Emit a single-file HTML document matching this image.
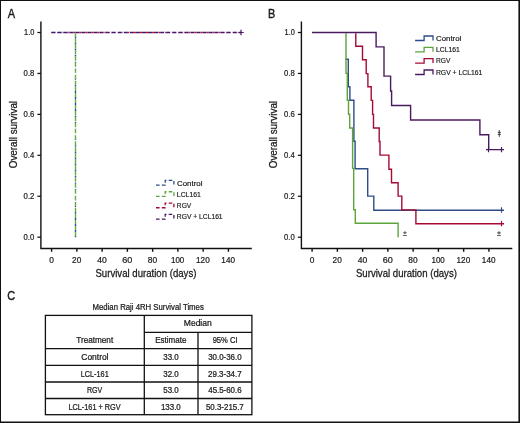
<!DOCTYPE html><html><head><meta charset="utf-8"><style>html,body{margin:0;padding:0;background:#fff;overflow:hidden}svg{display:block;will-change:transform}</style></head><body><svg width="520" height="423" viewBox="0 0 520 423">
<rect x="0" y="0" width="520" height="423" fill="#fff"/>
<g font-family='"Liberation Sans", sans-serif'>
<g stroke="#111" stroke-width="1.4" fill="none">
<path d="M40.9 21.4V248.5H251.8"/>
<path d="M37.4 32.50H40.9" stroke-width="1.25"/>
<path d="M37.4 73.44H40.9" stroke-width="1.25"/>
<path d="M37.4 114.38H40.9" stroke-width="1.25"/>
<path d="M37.4 155.32H40.9" stroke-width="1.25"/>
<path d="M37.4 196.26H40.9" stroke-width="1.25"/>
<path d="M37.4 237.20H40.9" stroke-width="1.25"/>
<path d="M51.60 248.5V251.8"/>
<path d="M76.86 248.5V251.8"/>
<path d="M102.12 248.5V251.8"/>
<path d="M127.38 248.5V251.8"/>
<path d="M152.64 248.5V251.8"/>
<path d="M177.90 248.5V251.8"/>
<path d="M203.16 248.5V251.8"/>
<path d="M228.42 248.5V251.8"/>
</g>
<text x="24.04" y="35.35" font-size="8.2" textLength="10.24" lengthAdjust="spacingAndGlyphs" fill="#1a1a1a" stroke="#1a1a1a" stroke-width="0.20">1.0</text>
<text x="23.59" y="76.29" font-size="8.2" textLength="10.75" lengthAdjust="spacingAndGlyphs" fill="#1a1a1a" stroke="#1a1a1a" stroke-width="0.20">0.8</text>
<text x="23.59" y="117.23" font-size="8.2" textLength="10.75" lengthAdjust="spacingAndGlyphs" fill="#1a1a1a" stroke="#1a1a1a" stroke-width="0.20">0.6</text>
<text x="23.59" y="158.17" font-size="8.2" textLength="10.64" lengthAdjust="spacingAndGlyphs" fill="#1a1a1a" stroke="#1a1a1a" stroke-width="0.20">0.4</text>
<text x="23.59" y="199.11" font-size="8.2" textLength="10.80" lengthAdjust="spacingAndGlyphs" fill="#1a1a1a" stroke="#1a1a1a" stroke-width="0.20">0.2</text>
<text x="23.59" y="240.05" font-size="8.2" textLength="10.70" lengthAdjust="spacingAndGlyphs" fill="#1a1a1a" stroke="#1a1a1a" stroke-width="0.20">0.0</text>
<text x="49.17" y="262.6" font-size="8.5" textLength="4.65" lengthAdjust="spacingAndGlyphs" fill="#1a1a1a" stroke="#1a1a1a" stroke-width="0.21">0</text>
<text x="72.09" y="262.6" font-size="8.5" textLength="9.23" lengthAdjust="spacingAndGlyphs" fill="#1a1a1a" stroke="#1a1a1a" stroke-width="0.21">20</text>
<text x="97.33" y="262.6" font-size="8.5" textLength="9.52" lengthAdjust="spacingAndGlyphs" fill="#1a1a1a" stroke="#1a1a1a" stroke-width="0.21">40</text>
<text x="122.18" y="262.6" font-size="8.5" textLength="10.10" lengthAdjust="spacingAndGlyphs" fill="#1a1a1a" stroke="#1a1a1a" stroke-width="0.21">60</text>
<text x="147.87" y="262.6" font-size="8.5" textLength="9.29" lengthAdjust="spacingAndGlyphs" fill="#1a1a1a" stroke="#1a1a1a" stroke-width="0.21">80</text>
<text x="170.99" y="262.6" font-size="8.5" textLength="13.31" lengthAdjust="spacingAndGlyphs" fill="#1a1a1a" stroke="#1a1a1a" stroke-width="0.21">100</text>
<text x="196.09" y="262.6" font-size="8.5" textLength="13.64" lengthAdjust="spacingAndGlyphs" fill="#1a1a1a" stroke="#1a1a1a" stroke-width="0.21">120</text>
<text x="221.35" y="262.6" font-size="8.5" textLength="13.64" lengthAdjust="spacingAndGlyphs" fill="#1a1a1a" stroke="#1a1a1a" stroke-width="0.21">140</text>
<text x="95.46" y="277.2" font-size="10.5" textLength="100.94" lengthAdjust="spacingAndGlyphs" fill="#1a1a1a" stroke="#1a1a1a" stroke-width="0.26">Survival duration (days)</text>
<text transform="translate(16.9 168.27) rotate(-90)" x="0" y="0" font-size="10.4" textLength="67.33" lengthAdjust="spacingAndGlyphs" fill="#1a1a1a" stroke="#1a1a1a" stroke-width="0.26">Overall survival</text>
<g stroke="#111" stroke-width="1.4" fill="none">
<path d="M301.4 21.4V248.5H512.3"/>
<path d="M297.9 32.50H301.4" stroke-width="1.25"/>
<path d="M297.9 73.44H301.4" stroke-width="1.25"/>
<path d="M297.9 114.38H301.4" stroke-width="1.25"/>
<path d="M297.9 155.32H301.4" stroke-width="1.25"/>
<path d="M297.9 196.26H301.4" stroke-width="1.25"/>
<path d="M297.9 237.20H301.4" stroke-width="1.25"/>
<path d="M312.10 248.5V251.8"/>
<path d="M337.36 248.5V251.8"/>
<path d="M362.62 248.5V251.8"/>
<path d="M387.88 248.5V251.8"/>
<path d="M413.14 248.5V251.8"/>
<path d="M438.40 248.5V251.8"/>
<path d="M463.66 248.5V251.8"/>
<path d="M488.92 248.5V251.8"/>
</g>
<text x="284.54" y="35.35" font-size="8.2" textLength="10.24" lengthAdjust="spacingAndGlyphs" fill="#1a1a1a" stroke="#1a1a1a" stroke-width="0.20">1.0</text>
<text x="284.09" y="76.29" font-size="8.2" textLength="10.75" lengthAdjust="spacingAndGlyphs" fill="#1a1a1a" stroke="#1a1a1a" stroke-width="0.20">0.8</text>
<text x="284.09" y="117.23" font-size="8.2" textLength="10.75" lengthAdjust="spacingAndGlyphs" fill="#1a1a1a" stroke="#1a1a1a" stroke-width="0.20">0.6</text>
<text x="284.09" y="158.17" font-size="8.2" textLength="10.64" lengthAdjust="spacingAndGlyphs" fill="#1a1a1a" stroke="#1a1a1a" stroke-width="0.20">0.4</text>
<text x="284.09" y="199.11" font-size="8.2" textLength="10.80" lengthAdjust="spacingAndGlyphs" fill="#1a1a1a" stroke="#1a1a1a" stroke-width="0.20">0.2</text>
<text x="284.09" y="240.05" font-size="8.2" textLength="10.70" lengthAdjust="spacingAndGlyphs" fill="#1a1a1a" stroke="#1a1a1a" stroke-width="0.20">0.0</text>
<text x="309.67" y="262.6" font-size="8.5" textLength="4.65" lengthAdjust="spacingAndGlyphs" fill="#1a1a1a" stroke="#1a1a1a" stroke-width="0.21">0</text>
<text x="332.59" y="262.6" font-size="8.5" textLength="9.23" lengthAdjust="spacingAndGlyphs" fill="#1a1a1a" stroke="#1a1a1a" stroke-width="0.21">20</text>
<text x="357.83" y="262.6" font-size="8.5" textLength="9.52" lengthAdjust="spacingAndGlyphs" fill="#1a1a1a" stroke="#1a1a1a" stroke-width="0.21">40</text>
<text x="382.68" y="262.6" font-size="8.5" textLength="10.10" lengthAdjust="spacingAndGlyphs" fill="#1a1a1a" stroke="#1a1a1a" stroke-width="0.21">60</text>
<text x="408.37" y="262.6" font-size="8.5" textLength="9.29" lengthAdjust="spacingAndGlyphs" fill="#1a1a1a" stroke="#1a1a1a" stroke-width="0.21">80</text>
<text x="431.49" y="262.6" font-size="8.5" textLength="13.31" lengthAdjust="spacingAndGlyphs" fill="#1a1a1a" stroke="#1a1a1a" stroke-width="0.21">100</text>
<text x="456.59" y="262.6" font-size="8.5" textLength="13.64" lengthAdjust="spacingAndGlyphs" fill="#1a1a1a" stroke="#1a1a1a" stroke-width="0.21">120</text>
<text x="481.85" y="262.6" font-size="8.5" textLength="13.64" lengthAdjust="spacingAndGlyphs" fill="#1a1a1a" stroke="#1a1a1a" stroke-width="0.21">140</text>
<text x="355.96" y="277.2" font-size="10.5" textLength="100.94" lengthAdjust="spacingAndGlyphs" fill="#1a1a1a" stroke="#1a1a1a" stroke-width="0.26">Survival duration (days)</text>
<text transform="translate(277.4 168.27) rotate(-90)" x="0" y="0" font-size="10.4" textLength="67.33" lengthAdjust="spacingAndGlyphs" fill="#1a1a1a" stroke="#1a1a1a" stroke-width="0.26">Overall survival</text>
<text x="7.78" y="18.0" font-size="11.9" textLength="7.36" lengthAdjust="spacingAndGlyphs" fill="#1a1a1a" stroke="#1a1a1a" stroke-width="0.36">A</text>
<text x="268.01" y="18.1" font-size="11.9" textLength="7.27" lengthAdjust="spacingAndGlyphs" fill="#1a1a1a" stroke="#1a1a1a" stroke-width="0.36">B</text>
<text x="7.25" y="299.6" font-size="11.9" textLength="7.97" lengthAdjust="spacingAndGlyphs" fill="#1a1a1a" stroke="#1a1a1a" stroke-width="0.36">C</text>
<g fill="none" stroke-width="1.4">
<path d="M55.26 32.5H55.70M61.70 32.5H62.40M68.46 32.5H69.10M75.20 32.5H75.40" stroke="#2c4a96"/>
<path d="M57.16 32.5H57.26M61.30 32.5H61.70M67.36 32.5H68.46M73.40 32.5H75.20M79.46 32.5H81.46M85.50 32.5H87.50M91.56 32.5H93.56M97.66 32.5H99.60M104.40 32.5H105.66M111.16 32.5H111.70M121.80 32.5H122.46M127.86 32.5H129.22M133.90 32.5H135.90M139.96 32.5H141.96M146.00 32.5H148.00M152.06 32.5H154.06M158.40 32.5H160.10M165.16 32.5H166.16M171.90 32.5H172.20M176.26 32.5H176.46M182.32 32.5H183.20M188.36 32.5H189.96M194.40 32.5H196.40M200.46 32.5H202.46M206.50 32.5H208.50M212.56 32.5H214.56M219.16 32.5H220.60M225.90 32.5H226.66M232.66 32.5H232.70M236.76 32.5H237.20" stroke="#bf1030"/>
<path d="M51.20 32.5H55.26M57.26 32.5H61.30M63.30 32.5H67.36M69.36 32.5H73.40M75.40 32.5H79.46M81.46 32.5H85.50M87.50 32.5H91.56M93.56 32.5H97.60M99.60 32.5H103.66M105.66 32.5H109.70M111.70 32.5H115.76M117.76 32.5H121.80M123.80 32.5H127.86M129.86 32.5H133.90M135.90 32.5H139.96M141.96 32.5H146.00M148.00 32.5H152.06M154.06 32.5H158.10M160.10 32.5H164.16M166.16 32.5H170.20M172.20 32.5H176.26M178.26 32.5H182.32M184.32 32.5H188.36M190.36 32.5H194.40M196.40 32.5H200.46M202.46 32.5H206.50M208.50 32.5H212.56M214.56 32.5H218.60M220.60 32.5H224.66M226.66 32.5H230.70M232.70 32.5H236.76M238.76 32.5H241.00" stroke="#42196a"/>
<path d="M75.5 36.46V38.46M75.5 42.52V44.52M75.5 48.56V50.56M75.5 55.12V56.60M75.5 61.82V62.66M75.5 68.52V68.70M75.5 72.76V73.02M75.5 78.82V79.72M75.5 84.86V86.42M75.5 90.92V92.92M75.5 96.96V98.96M75.5 103.00V105.00M75.5 109.06V111.06M75.5 115.40V117.10M75.5 122.10V123.16M75.5 128.82V129.20M75.5 133.26V133.32M75.5 139.32V140.00M75.5 145.36V146.72M75.5 151.42V153.42M75.5 157.46V159.46M75.5 163.50V165.50M75.5 169.56V171.56M75.5 175.72V177.62M75.5 182.42V183.66M75.5 189.12V189.70M75.5 199.80V200.30M75.5 205.86V207.00M75.5 211.92V213.72M75.5 217.96V219.96M75.5 224.00V226.00M75.5 230.06V232.06M75.5 236.12V237.20" stroke="#2c4a96"/>
<path d="M75.5 33.20V36.46M75.5 38.46V42.52M75.5 44.52V48.56M75.5 50.56V54.60M75.5 56.60V60.66M75.5 62.66V66.70M75.5 68.70V72.76M75.5 74.76V78.82M75.5 80.82V84.86M75.5 86.86V90.92M75.5 92.92V96.96M75.5 98.96V103.00M75.5 105.00V109.06M75.5 111.06V115.10M75.5 117.10V121.16M75.5 123.16V127.20M75.5 129.20V133.26M75.5 135.26V139.32M75.5 141.32V145.36M75.5 147.36V151.42M75.5 153.42V157.46M75.5 159.46V163.50M75.5 165.50V169.56M75.5 171.56V175.62M75.5 177.62V181.66M75.5 183.66V187.70M75.5 189.70V193.76M75.5 195.76V199.80M75.5 201.80V205.86M75.5 207.86V211.92M75.5 213.92V217.96M75.5 219.96V224.00M75.5 226.00V230.06M75.5 232.06V236.12" stroke="#62ad3e"/>
<path d="M241 29.8V35.2M238.3 32.5H243.7" stroke="#4a1a5e" stroke-width="1.2"/>
</g>
<path d="M156 185.1H165.2V180.4H173.9V185.1" fill="none" stroke="#2e4c86" stroke-width="1.3" stroke-dasharray="3.6 2.2"/>
<text x="177.00" y="185.5" font-size="7.3" textLength="25.52" lengthAdjust="spacingAndGlyphs" fill="#1a1a1a" stroke="#1a1a1a" stroke-width="0.18">Control</text>
<path d="M156 196.43H165.2V191.73000000000002H173.9V196.43" fill="none" stroke="#5ca53c" stroke-width="1.3" stroke-dasharray="3.6 2.2"/>
<text x="176.84" y="196.6" font-size="7.3" textLength="24.00" lengthAdjust="spacingAndGlyphs" fill="#1a1a1a" stroke="#1a1a1a" stroke-width="0.18">LCL161</text>
<path d="M156 207.77H165.2V203.07000000000002H173.9V207.77" fill="none" stroke="#a60a34" stroke-width="1.3" stroke-dasharray="3.6 2.2"/>
<text x="176.86" y="207.8" font-size="7.3" textLength="14.38" lengthAdjust="spacingAndGlyphs" fill="#1a1a1a" stroke="#1a1a1a" stroke-width="0.18">RGV</text>
<path d="M156 219.1H165.2V214.4H173.9V219.1" fill="none" stroke="#4a1a5e" stroke-width="1.3" stroke-dasharray="3.6 2.2"/>
<text x="176.85" y="219.3" font-size="7.3" textLength="45.77" lengthAdjust="spacingAndGlyphs" fill="#1a1a1a" stroke="#1a1a1a" stroke-width="0.18">RGV + LCL161</text>
<g fill="none" stroke-width="1.4" stroke-linejoin="miter">
<path d="M345.3 59.3L348.3 59.3L348.3 86.8L349.9 86.8L349.9 100.3L353.9 100.3L353.9 141.2L355.1 141.2L355.1 168.7L367.7 168.7L367.7 196.1L373.8 196.1L373.8 210.2L504 210.2" stroke="#2e4c86"/>
<path d="M346.0 33.2L346.0 73.4L347.3 73.4L347.3 100.3L348.5 100.3L348.5 114.3L349.7 114.3L349.7 128.0L352.6 128.0L352.6 168.4L353.7 168.4L353.7 209.7L355.3 209.7L355.3 223.2L398.1 223.2L398.1 237.2" stroke="#5ca53c"/>
<path d="M355.8 33.2L355.8 46.2L362.5 46.2L362.5 59.7L366.2 59.7L366.2 73.6L367.9 73.6L367.9 86.8L371.2 86.8L371.2 100.4L372.6 100.4L372.6 114.4L373.5 114.4L373.5 128.0L379.2 128.0L379.2 141.5L380.0 141.5L380.0 155.1L388.9 155.1L388.9 169.2L391.5 169.2L391.5 182.8L398.1 182.8L398.1 196.1L401.8 196.1L401.8 209.9L415.9 209.9L415.9 223.7L504 223.7" stroke="#a60a34"/>
<path d="M312.0 32.5L376.1 32.5L376.1 46.9L384.0 46.9L384.0 76.1L390.6 76.1L390.6 91.0L391.6 91.0L391.6 105.5L410.6 105.5L410.6 120.0L479.9 120.0L479.9 134.8L488.7 134.8L488.7 149.6L504 149.6" stroke="#4a1a5e"/>
<path d="M501.5 207.3V212.7" stroke="#2e4c86" stroke-width="1.2"/>
<path d="M501.5 220.9V226.3" stroke="#a60a34" stroke-width="1.2"/>
<path d="M501.5 146.9V152.3M488.5 146.9V152.3M486 149.6H489" stroke="#4a1a5e" stroke-width="1.2"/>
</g>
<path d="M403.2 232.8H406.59999999999997M404.9 231.20000000000002V234.3" stroke="#555" stroke-width="1.1" fill="none"/>
<path d="M402.9 235.5H406.9" stroke="#555" stroke-width="0.9" fill="none"/>
<path d="M497.3 232.9H500.7M499.0 231.3V234.4" stroke="#555" stroke-width="1.1" fill="none"/>
<path d="M497.0 235.6H501.0" stroke="#555" stroke-width="0.9" fill="none"/>
<path d="M499.3 130.2V136.8M497.8 132.4H500.8M497.8 134.4H500.8" stroke="#3a3a3a" stroke-width="1.0" fill="none"/>
<path d="M415.1 40.5H424.1V36.0H433.0V40.5" fill="none" stroke="#2e4c86" stroke-width="1.3"/>
<text x="436.11" y="40.5" font-size="7.3" textLength="25.20" lengthAdjust="spacingAndGlyphs" fill="#1a1a1a" stroke="#1a1a1a" stroke-width="0.18">Control</text>
<path d="M415.1 51.8H424.1V47.3H433.0V51.8" fill="none" stroke="#5ca53c" stroke-width="1.3"/>
<text x="435.94" y="51.6" font-size="7.3" textLength="23.89" lengthAdjust="spacingAndGlyphs" fill="#1a1a1a" stroke="#1a1a1a" stroke-width="0.18">LCL161</text>
<path d="M415.1 63.1H424.1V58.6H433.0V63.1" fill="none" stroke="#a60a34" stroke-width="1.3"/>
<text x="435.96" y="63.1" font-size="7.3" textLength="14.38" lengthAdjust="spacingAndGlyphs" fill="#1a1a1a" stroke="#1a1a1a" stroke-width="0.18">RGV</text>
<path d="M415.1 74.5H424.1V70.0H433.0V74.5" fill="none" stroke="#4a1a5e" stroke-width="1.3"/>
<text x="435.94" y="74.6" font-size="7.3" textLength="46.38" lengthAdjust="spacingAndGlyphs" fill="#1a1a1a" stroke="#1a1a1a" stroke-width="0.18">RGV + LCL161</text>
<text x="92.56" y="310.4" font-size="8.5" textLength="111.21" lengthAdjust="spacingAndGlyphs" fill="#1a1a1a" stroke="#1a1a1a" stroke-width="0.24">Median Raji 4RH Survival Times</text>
<g stroke="#111" stroke-width="1.3" fill="none">
<rect x="45.4" y="315.4" width="206.5" height="99.30000000000001"/>
<path d="M144.3 315.4V414.7M198.0 332.4V414.7M144.3 332.4H251.9"/>
<path d="M45.4 348.7H251.9"/>
<path d="M45.4 365.4H251.9"/>
<path d="M45.4 382.0H251.9"/>
<path d="M45.4 398.5H251.9"/>
</g>
<text x="183.80" y="326.2" font-size="8.5" textLength="27.94" lengthAdjust="spacingAndGlyphs" fill="#1a1a1a" stroke="#1a1a1a" stroke-width="0.24">Median</text>
<text x="76.22" y="343.0" font-size="8.5" textLength="36.95" lengthAdjust="spacingAndGlyphs" fill="#1a1a1a" stroke="#1a1a1a" stroke-width="0.24">Treatment</text>
<text x="155.24" y="343.0" font-size="8.5" textLength="31.21" lengthAdjust="spacingAndGlyphs" fill="#1a1a1a" stroke="#1a1a1a" stroke-width="0.24">Estimate</text>
<text x="212.65" y="343.0" font-size="8.5" textLength="24.94" lengthAdjust="spacingAndGlyphs" fill="#1a1a1a" stroke="#1a1a1a" stroke-width="0.24">95% CI</text>
<text x="81.33" y="359.9" font-size="8.5" textLength="27.17" lengthAdjust="spacingAndGlyphs" fill="#1a1a1a" stroke="#1a1a1a" stroke-width="0.24">Control</text>
<text x="163.30" y="359.9" font-size="8.5" textLength="15.40" lengthAdjust="spacingAndGlyphs" fill="#1a1a1a" stroke="#1a1a1a" stroke-width="0.24">33.0</text>
<text x="208.15" y="359.9" font-size="8.5" textLength="33.40" lengthAdjust="spacingAndGlyphs" fill="#1a1a1a" stroke="#1a1a1a" stroke-width="0.24">30.0-36.0</text>
<text x="80.70" y="376.8" font-size="8.5" textLength="28.05" lengthAdjust="spacingAndGlyphs" fill="#1a1a1a" stroke="#1a1a1a" stroke-width="0.24">LCL-161</text>
<text x="163.30" y="376.8" font-size="8.5" textLength="15.40" lengthAdjust="spacingAndGlyphs" fill="#1a1a1a" stroke="#1a1a1a" stroke-width="0.24">32.0</text>
<text x="208.05" y="376.8" font-size="8.5" textLength="33.59" lengthAdjust="spacingAndGlyphs" fill="#1a1a1a" stroke="#1a1a1a" stroke-width="0.24">29.3-34.7</text>
<text x="86.92" y="393.3" font-size="8.5" textLength="15.31" lengthAdjust="spacingAndGlyphs" fill="#1a1a1a" stroke="#1a1a1a" stroke-width="0.24">RGV</text>
<text x="163.28" y="393.3" font-size="8.5" textLength="15.42" lengthAdjust="spacingAndGlyphs" fill="#1a1a1a" stroke="#1a1a1a" stroke-width="0.24">53.0</text>
<text x="208.28" y="393.3" font-size="8.5" textLength="33.32" lengthAdjust="spacingAndGlyphs" fill="#1a1a1a" stroke="#1a1a1a" stroke-width="0.24">45.5-60.6</text>
<text x="68.45" y="409.7" font-size="8.5" textLength="52.23" lengthAdjust="spacingAndGlyphs" fill="#1a1a1a" stroke="#1a1a1a" stroke-width="0.24">LCL-161 + RGV</text>
<text x="160.90" y="409.7" font-size="8.5" textLength="19.91" lengthAdjust="spacingAndGlyphs" fill="#1a1a1a" stroke="#1a1a1a" stroke-width="0.24">133.0</text>
<text x="205.98" y="409.7" font-size="8.5" textLength="37.81" lengthAdjust="spacingAndGlyphs" fill="#1a1a1a" stroke="#1a1a1a" stroke-width="0.24">50.3-215.7</text>
</g>
<path d="M0 0H520V1H0Z M0 0H1V423H0Z M518.4 0H520V423H518.4Z M0 421.4H520V423H0Z" fill="#111"/>
</svg></body></html>
